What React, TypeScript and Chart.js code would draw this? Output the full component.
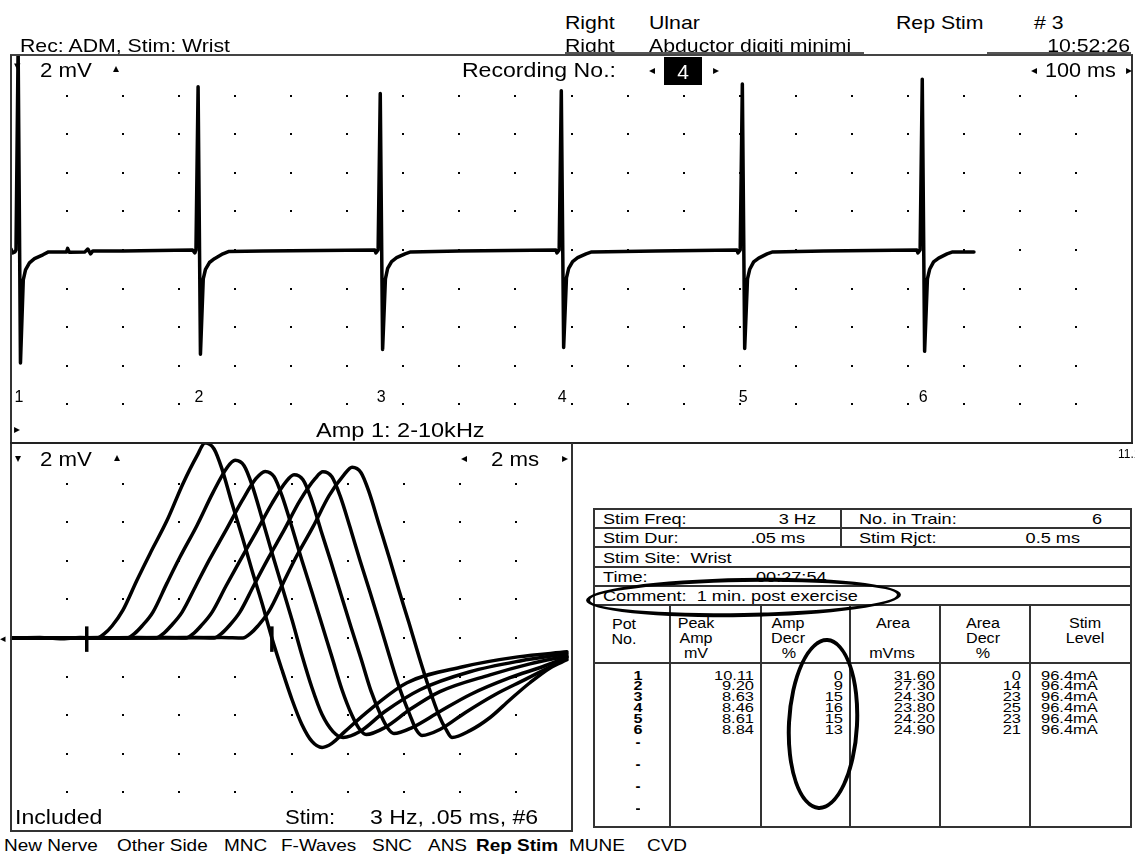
import React, { useEffect, useRef } from "react";
import { Chart, registerables } from "chart.js";

Chart.register(...registerables);

const FONT = '"Liberation Sans", Arial, Helvetica, sans-serif';

// ---------- Top panel: repetitive stimulation train (ms, mV) ----------
const trainSpikeOnsetsMs = [8.9, 330, 655, 978, 1301, 1622];
const trainSpikeLabels = ["1", "2", "3", "4", "5", "6"];
const trainTrace: [number, number][] = [
  [0, 0.05], [3, -0.15], [7, -0.1], [8.9, 0], [12.7, 10.5], [16.9, -5.85], [21.9, -1.55], [25.9, -1.03],
  [32.9, -0.67], [41.9, -0.45], [56.9, -0.25], [66.9, -0.1], [99, -0.1], [101, 0.08], [104, -0.12],
  [132, -0.1], [137, 0.05], [142, -0.2], [146, -0.05], [200, -0.05], [324, 0],
  [328, -0.15], [330, 0], [333.8, 8.45], [338, -5.4], [343, -1.5], [347, -1.0], [354, -0.65], [363, -0.45],
  [378, -0.2], [388, -0.08], [450, -0.05], [649, 0],
  [651, -0.15], [655, 0], [658.8, 8.1], [663, -5.15], [668, -1.5], [672, -0.95], [679, -0.6], [688, -0.4],
  [703, -0.2], [713, -0.1], [800, -0.05], [972, 0],
  [974, -0.15], [978, 0], [981.8, 8.25], [986, -5.05], [991, -1.45], [995, -0.95], [1002, -0.6], [1011, -0.4],
  [1026, -0.2], [1036, -0.1], [1150, -0.05], [1295, 0],
  [1297, -0.15], [1301, 0], [1304.8, 8.6], [1309, -5.1], [1314, -1.5], [1318, -1.0], [1325, -0.62], [1334, -0.42],
  [1349, -0.2], [1359, -0.1], [1450, -0.05], [1616, 0],
  [1618, -0.15], [1622, 0], [1625.8, 8.85], [1630, -5.25], [1635, -1.5], [1639, -1.0], [1646, -0.62], [1655, -0.42],
  [1670, -0.2], [1680, -0.1], [1718, -0.1],
];

// ---------- Bottom panel: superimposed CMAPs (ms, mV) ----------
const cmap1: [number, number][] = [
  [0, 0], [1.03, 0.03], [1.75, -0.04], [2.46, 0.02], [3.07, 0], [3.32, 0.21], [3.6, 0.62], [3.99, 1.44], [4.49, 2.99],
  [4.96, 4.38], [5.56, 6.08], [6.13, 7.99], [6.63, 9.43], [6.92, 10.11], [7.24, 9.79], [7.52, 8.76], [7.88, 6.96],
  [8.24, 5.26], [8.59, 3.51], [8.95, 1.8], [9.3, 0], [9.66, -1.65], [10.02, -3.2], [10.37, -4.48], [10.73, -5.36],
  [11.09, -5.67], [11.44, -5.46], [11.9, -4.85], [12.8, -3.71], [14.12, -2.32], [16.11, -1.49], [18.07, -0.98], [19.82, -0.72],
];
const cmap2: [number, number][] = [
  [0, 0], [1.75, 0], [3.17, 0.03], [4.14, 0], [4.39, 0.21], [4.67, 0.62], [5.06, 1.34], [5.56, 2.84], [6.02, 4.18],
  [6.63, 5.83], [7.2, 7.53], [7.7, 8.82], [7.99, 9.2], [8.31, 8.92], [8.6, 7.89], [8.95, 6.19], [9.3, 4.43],
  [9.66, 2.68], [10.02, 0.93], [10.37, -0.88], [10.73, -2.58], [11.09, -3.97], [11.48, -4.85], [11.84, -5.15],
  [12.44, -4.85], [13.33, -3.81], [14.58, -2.68], [16.36, -1.75], [18.15, -1.19], [19.82, -0.82],
];
const cmap3: [number, number][] = [
  [0, 0], [2.5, 0], [4.5, 0.03], [5.17, 0], [5.42, 0.21], [5.7, 0.62], [6.1, 1.34], [6.6, 2.73], [7.06, 4.02],
  [7.66, 5.57], [8.24, 7.11], [8.73, 8.25], [9.06, 8.63], [9.38, 8.35], [9.66, 7.37], [10.02, 5.72], [10.37, 4.02],
  [10.73, 2.37], [11.09, 0.67], [11.44, -0.98], [11.8, -2.68], [12.16, -4.02], [12.41, -4.69], [12.66, -5.0],
  [13.33, -4.64], [14.22, -3.71], [15.29, -2.78], [17.08, -1.91], [18.5, -1.34], [19.82, -0.93],
];
const cmap4: [number, number][] = [
  [0, 0], [3.0, 0], [5.5, 0.03], [6.24, 0], [6.49, 0.21], [6.77, 0.62], [7.17, 1.34], [7.66, 2.68], [8.13, 3.92],
  [8.73, 5.46], [9.3, 6.96], [9.8, 8.09], [10.09, 8.46], [10.41, 8.2], [10.7, 7.22], [11.05, 5.57], [11.41, 3.92],
  [11.76, 2.27], [12.12, 0.57], [12.48, -1.08], [12.83, -2.73], [13.19, -4.02], [13.44, -4.69], [13.65, -4.95],
  [14.3, -4.64], [15.29, -3.81], [16.36, -2.94], [17.79, -2.06], [19.04, -1.44], [19.82, -0.98],
];
const cmap5: [number, number][] = [
  [0, 0], [3.5, 0], [6.5, 0.03], [7.24, 0], [7.49, 0.21], [7.77, 0.62], [8.16, 1.34], [8.66, 2.73], [9.13, 4.02],
  [9.73, 5.57], [10.3, 7.11], [10.84, 8.25], [11.12, 8.61], [11.44, 8.35], [11.73, 7.37], [12.09, 5.72], [12.44, 4.02],
  [12.8, 2.37], [13.16, 0.67], [13.51, -1.03], [13.87, -2.68], [14.23, -4.02], [14.44, -4.74], [14.65, -5.05],
  [15.29, -4.74], [16.19, -3.87], [17.25, -2.94], [18.32, -2.16], [19.22, -1.49], [19.82, -1.03],
];
const cmap6: [number, number][] = [
  [0, 0], [4.0, 0], [7.5, 0.03], [8.27, 0], [8.52, 0.21], [8.8, 0.62], [9.2, 1.39], [9.7, 2.84], [10.16, 4.18],
  [10.77, 5.77], [11.34, 7.37], [11.87, 8.45], [12.16, 8.84], [12.48, 8.56], [12.76, 7.58], [13.12, 5.88], [13.48, 4.18],
  [13.83, 2.47], [14.19, 0.77], [14.55, -0.98], [14.9, -2.58], [15.26, -4.02], [15.51, -4.74], [15.72, -5.15],
  [16.36, -4.8], [17.08, -4.12], [17.79, -3.2], [18.5, -2.32], [19.22, -1.55], [19.82, -1.13],
];
const cmapWaves = [cmap1, cmap2, cmap3, cmap4, cmap5, cmap6];
const latencyMarkersMs = [2.7, 9.3];

// ---------- Table values ----------
const potNo = ["1", "2", "3", "4", "5", "6"];
const peakAmpMv = ["10.11", "9.20", "8.63", "8.46", "8.61", "8.84"];
const ampDecrPct = ["0", "9", "15", "16", "15", "13"];
const areaMvms = ["31.60", "27.30", "24.30", "23.80", "24.20", "24.90"];
const areaDecrPct = ["0", "14", "23", "25", "23", "21"];
const stimLevel = ["96.4mA", "96.4mA", "96.4mA", "96.4mA", "96.4mA", "96.4mA"];
const menuItems = ["New Nerve", "Other Side", "MNC", "F-Waves", "SNC", "ANS", "Rep Stim", "MUNE", "CVD"];

// ---------- helpers ----------
type TP = {
  x: number; y: number; t: string; size?: number; align?: "left" | "right" | "center";
  bold?: boolean; sx?: number; color?: string;
};
function T({ x, y, t, size = 16, align = "left", bold = false, sx = 1, color = "#000" }: TP) {
  const tx = align === "left" ? "0%" : align === "right" ? "-100%" : "-50%";
  const origin = align === "left" ? "left center" : align === "right" ? "right center" : "center center";
  return (
    <div
      style={{
        position: "absolute", left: x, top: y, transform: `translate(${tx},-50%) scaleX(${sx})`,
        transformOrigin: origin, fontSize: size, fontWeight: bold ? 700 : 400, lineHeight: 1,
        whiteSpace: "pre", color, fontFamily: FONT,
      }}
    >
      {t}
    </div>
  );
}
function H({ x1, x2, y, w = 2, c = "#333" }: { x1: number; x2: number; y: number; w?: number; c?: string }) {
  return <div style={{ position: "absolute", left: x1, top: y - w / 2, width: x2 - x1, height: w, background: c }} />;
}
function V({ x, y1, y2, w = 2, c = "#333" }: { x: number; y1: number; y2: number; w?: number; c?: string }) {
  return <div style={{ position: "absolute", left: x - w / 2, top: y1, width: w, height: y2 - y1, background: c }} />;
}

function dotGridPlugin(xStep: number, yStep: number) {
  return {
    id: "dotGrid",
    afterDatasetsDraw(chart: any) {
      const { ctx, scales } = chart;
      const xs = scales.x, ys = scales.y;
      ctx.save();
      ctx.fillStyle = "#000";
      for (let xv = xs.min + xStep; xv < xs.max - xStep / 2; xv += xStep) {
        for (let yv = Math.ceil((ys.min + 0.5) / yStep) * yStep; yv < ys.max - 0.5; yv += yStep) {
          const px = Math.round(xs.getPixelForValue(xv));
          const py = Math.round(ys.getPixelForValue(yv));
          ctx.fillRect(px - 1, py - 1, 2, 2);
        }
      }
      ctx.restore();
    },
  };
}

const spikeLabelPlugin = {
  id: "spikeLabels",
  afterDatasetsDraw(chart: any) {
    const { ctx, scales, chartArea } = chart;
    ctx.save();
    ctx.fillStyle = "#000";
    ctx.font = `16px ${FONT}`;
    ctx.textAlign = "center";
    ctx.textBaseline = "middle";
    trainSpikeOnsetsMs.forEach((t, i) => {
      const px = Math.max(scales.x.getPixelForValue(t) + 3, 7);
      ctx.fillText(trainSpikeLabels[i], px, chartArea.bottom - 45);
    });
    ctx.restore();
  },
};

const markerPlugin = {
  id: "latencyMarkers",
  afterDatasetsDraw(chart: any) {
    const { ctx, scales } = chart;
    ctx.save();
    ctx.strokeStyle = "#000";
    ctx.lineWidth = 3.5;
    latencyMarkersMs.forEach((t) => {
      const px = scales.x.getPixelForValue(t);
      ctx.beginPath();
      ctx.moveTo(px, scales.y.getPixelForValue(0.6));
      ctx.lineTo(px, scales.y.getPixelForValue(-0.72));
      ctx.stroke();
    });
    ctx.restore();
  },
};

function TrainChart() {
  const ref = useRef<HTMLCanvasElement>(null);
  useEffect(() => {
    const chart = new Chart(ref.current!, {
      type: "line",
      data: {
        datasets: [
          {
            data: trainTrace.map(([x, y]) => ({ x, y })),
            borderColor: "#000", borderWidth: 3.5, pointRadius: 0, tension: 0,
            borderJoinStyle: "round", borderCapStyle: "round",
          },
        ],
      },
      options: {
        responsive: false, animation: false, events: [],
        layout: { padding: 0 },
        scales: {
          x: { type: "linear", min: 0, max: 2000, display: false },
          y: { min: -10, max: 10.1, display: false },
        },
        plugins: { legend: { display: false }, tooltip: { enabled: false } },
      },
      plugins: [dotGridPlugin(100, 2), spikeLabelPlugin],
    } as any);
    return () => chart.destroy();
  }, []);
  return <canvas ref={ref} width={1121} height={388} style={{ position: "absolute", left: 11, top: 55 }} />;
}

function CmapChart() {
  const ref = useRef<HTMLCanvasElement>(null);
  useEffect(() => {
    const chart = new Chart(ref.current!, {
      type: "line",
      data: {
        datasets: cmapWaves.map((w) => ({
          data: w.map(([x, y]) => ({ x, y })),
          borderColor: "#000", borderWidth: 3.5, pointRadius: 0,
          cubicInterpolationMode: "monotone", borderJoinStyle: "round", borderCapStyle: "round",
        })),
      },
      options: {
        responsive: false, animation: false, events: [],
        layout: { padding: 0 },
        scales: {
          x: { type: "linear", min: 0, max: 20, display: false },
          y: { min: -10, max: 10.1, display: false },
        },
        plugins: { legend: { display: false }, tooltip: { enabled: false } },
      },
      plugins: [dotGridPlugin(2, 2), markerPlugin],
    } as any);
    return () => chart.destroy();
  }, []);
  return <canvas ref={ref} width={561} height={388} style={{ position: "absolute", left: 11, top: 443 }} />;
}

export default function App() {
  const rowY = [675.5, 686.3, 697.1, 707.9, 718.7, 729.5];
  const dashY = [741, 763, 785, 807];
  const menuX = [4, 117, 224, 281, 372, 428, 476, 569, 647];
  const HDR = 14.5;
  const DAT = 13.5;
  return (
    <div style={{ position: "absolute", left: 0, top: 0, width: 1135, height: 855, overflow: "hidden", background: "#fff", fontFamily: FONT }}>
      <TrainChart />
      <CmapChart />

      {/* header */}
      <T x={565} y={23} t="Right" size={18.5} sx={1.15} />
      <T x={649} y={23} t="Ulnar" size={18.5} sx={1.15} />
      <T x={896} y={23} t="Rep Stim" size={18.5} sx={1.15} />
      <T x={1034} y={23} t="# 3" size={18.5} sx={1.15} />
      <T x={20} y={46} t="Rec: ADM, Stim: Wrist" size={18.5} sx={1.15} />
      <T x={565} y={46} t="Right" size={18.5} sx={1.15} />
      <T x={649} y={46} t="Abductor digiti minimi" size={18.5} sx={1.15} />
      <T x={1130} y={46} t="10:52:26" size={18.5} sx={1.15} align="right" />
      <H x1={565} x2={864} y={53} w={1.5} c="#555" />
      <H x1={987} x2={1131} y={53} w={1.5} c="#555" />

      {/* frames */}
      <H x1={10} x2={1133} y={55} w={1.5} c="#444" />
      <V x={11} y1={55} y2={832} w={2} c="#333" />
      <V x={1132} y1={55} y2={444} w={2} c="#333" />
      <H x1={10} x2={1133} y={443} w={2} c="#222" />
      <V x={572} y1={443} y2={832} w={2} c="#333" />
      <H x1={10} x2={573} y={831} w={2} c="#333" />

      {/* top panel labels */}
      <T x={17} y={65} t="▾" size={13} align="center" />
      <T x={40} y={69} t="2 mV" size={21} sx={1.06} />
      <T x={116} y={68} t="▴" size={12} align="center" />
      <T x={616} y={69} t="Recording No.:" size={21} sx={1.1} align="right" />
      <T x={652} y={70} t="◂" size={12} align="center" />
      <div style={{ position: "absolute", left: 664, top: 57, width: 38, height: 28, background: "#000" }} />
      <T x={683} y={71} t="4" size={21} align="center" color="#fff" />
      <T x={716} y={70} t="▸" size={12} align="center" />
      <T x={1034} y={70} t="◂" size={12} align="center" />
      <T x={1045} y={69} t="100 ms" size={21} sx={1.03} />
      <T x={1129} y={70} t="▸" size={12} align="center" />
      <T x={14} y={429} t="▸" size={12} />
      <T x={316} y={429} t="Amp 1: 2-10kHz" size={21} sx={1.12} />

      {/* bottom-left panel labels */}
      <T x={18} y={458} t="▾" size={12} align="center" />
      <T x={40} y={458} t="2 mV" size={21} sx={1.06} />
      <T x={117} y={457} t="▴" size={12} align="center" />
      <T x={464} y={458} t="◂" size={12} align="center" />
      <T x={491} y={458} t="2 ms" size={21} sx={1.06} />
      <T x={565} y={458} t="▸" size={12} align="center" />
      <T x={0} y={638} t="◂" size={11} />
      <T x={15} y={816} t="Included" size={21} sx={1.1} />
      <T x={285} y={816} t="Stim:" size={21} sx={1.05} />
      <T x={370} y={816} t="3 Hz, .05 ms, #6" size={21} sx={1.1} />
      <T x={1118} y={454} t="11.1" size={12} />

      {/* parameter table */}
      <div style={{ position: "absolute", left: 593, top: 508, width: 539, height: 320, border: "2px solid #333", boxSizing: "border-box" }} />
      <H x1={593} x2={1132} y={528} w={1.5} />
      <H x1={593} x2={1132} y={547} w={2} />
      <H x1={593} x2={1132} y={567} w={1.5} />
      <H x1={593} x2={1132} y={586} w={1.5} />
      <H x1={593} x2={1132} y={605} w={2} />
      <H x1={593} x2={1132} y={663} w={2} />
      <V x={841} y1={508} y2={547} w={1.5} />
      {[670, 761, 850, 940, 1030].map((x) => (
        <V key={x} x={x} y1={605} y2={828} w={1.5} />
      ))}
      <T x={603} y={519} t="Stim Freq:" size={HDR} sx={1.25} />
      <T x={816} y={519} t="3 Hz" size={HDR} sx={1.25} align="right" />
      <T x={859} y={519} t="No. in Train:" size={HDR} sx={1.25} />
      <T x={1102} y={519} t="6" size={HDR} sx={1.25} align="right" />
      <T x={603} y={538} t="Stim Dur:" size={HDR} sx={1.25} />
      <T x={805} y={538} t=".05 ms" size={HDR} sx={1.25} align="right" />
      <T x={859} y={538} t="Stim Rjct:" size={HDR} sx={1.25} />
      <T x={1080} y={538} t="0.5 ms" size={HDR} sx={1.25} align="right" />
      <T x={603} y={558} t="Stim Site:  Wrist" size={HDR} sx={1.25} />
      <T x={603} y={577} t="Time:" size={HDR} sx={1.25} />
      <T x={756} y={577} t="00:27:54" size={HDR} sx={1.25} />
      <T x={603} y={596} t="Comment:  1 min. post exercise" size={HDR} sx={1.25} />

      <T x={624} y={624} t="Pot" size={14} sx={1.15} align="center" />
      <T x={624} y={639} t="No." size={14} sx={1.15} align="center" />
      <T x={696} y={623} t="Peak" size={14} sx={1.15} align="center" />
      <T x={696} y={638} t="Amp" size={14} sx={1.15} align="center" />
      <T x={696} y={653} t="mV" size={14} sx={1.15} align="center" />
      <T x={788} y={623} t="Amp" size={14} sx={1.15} align="center" />
      <T x={788} y={638} t="Decr" size={14} sx={1.15} align="center" />
      <T x={789} y={653} t="%" size={14} sx={1.15} align="center" />
      <T x={893} y={623} t="Area" size={14} sx={1.15} align="center" />
      <T x={892} y={653} t="mVms" size={14} sx={1.15} align="center" />
      <T x={983} y={623} t="Area" size={14} sx={1.15} align="center" />
      <T x={983} y={638} t="Decr" size={14} sx={1.15} align="center" />
      <T x={983} y={653} t="%" size={14} sx={1.15} align="center" />
      <T x={1085} y={623} t="Stim" size={14} sx={1.15} align="center" />
      <T x={1085} y={638} t="Level" size={14} sx={1.15} align="center" />

      {potNo.map((p, i) => (
        <React.Fragment key={p}>
          <T x={638} y={rowY[i]} t={p} size={DAT} sx={1.2} bold align="center" />
          <T x={754} y={rowY[i]} t={peakAmpMv[i]} size={DAT} sx={1.22} align="right" />
          <T x={843} y={rowY[i]} t={ampDecrPct[i]} size={DAT} sx={1.22} align="right" />
          <T x={935} y={rowY[i]} t={areaMvms[i]} size={DAT} sx={1.22} align="right" />
          <T x={1021} y={rowY[i]} t={areaDecrPct[i]} size={DAT} sx={1.22} align="right" />
          <T x={1041} y={rowY[i]} t={stimLevel[i]} size={DAT} sx={1.22} />
        </React.Fragment>
      ))}
      {dashY.map((y) => (
        <T key={y} x={638} y={y} t="-" size={15} bold align="center" />
      ))}

      {/* annotation ellipses */}
      <div style={{ position: "absolute", left: 586, top: 578, width: 315, height: 39, border: "4px solid #000", borderRadius: "50%", boxSizing: "border-box", transform: "rotate(-1deg)" }} />
      <div style={{ position: "absolute", left: 787, top: 638, width: 72, height: 172, border: "4px solid #000", borderRadius: "50%", boxSizing: "border-box", transform: "rotate(3deg)" }} />

      {/* bottom menu */}
      {menuItems.map((m, i) => (
        <T key={m} x={menuX[i]} y={845} t={m} size={16.5} sx={1.15} bold={m === "Rep Stim"} />
      ))}
    </div>
  );
}
